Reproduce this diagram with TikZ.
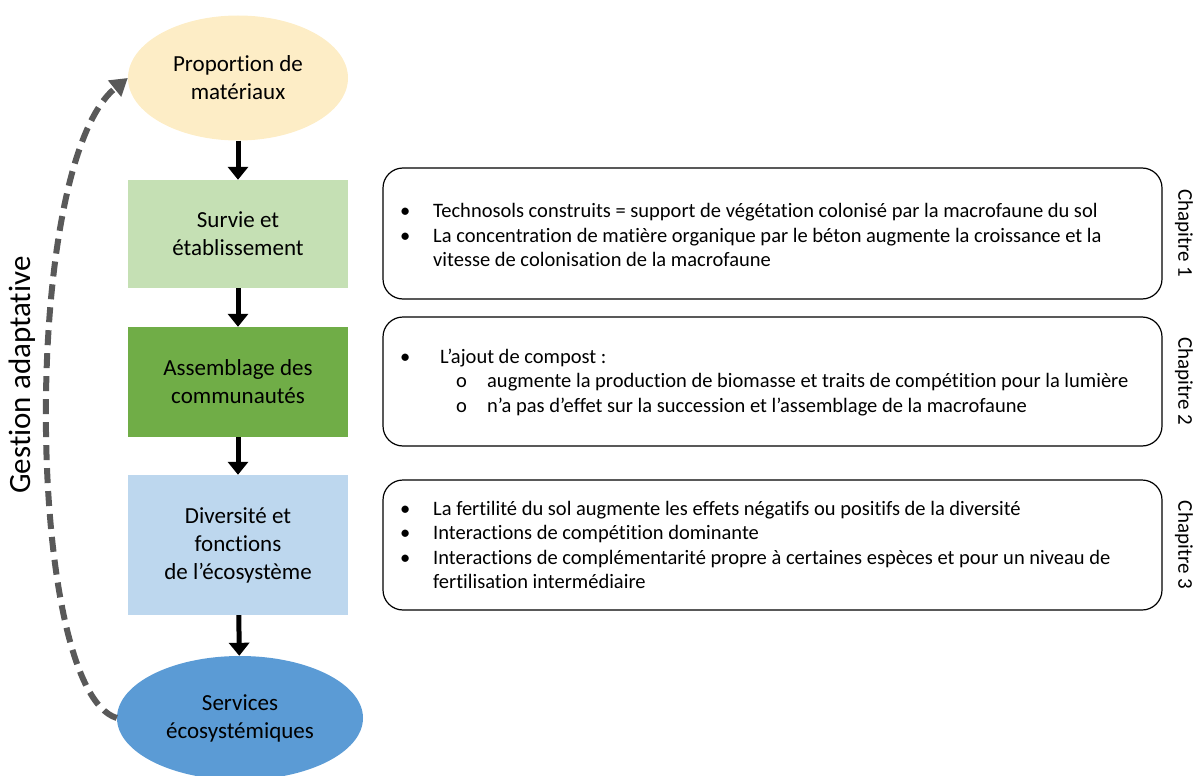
\documentclass[tikz,border=0pt]{standalone}
\usepackage{fontspec}
\setmainfont{Carlito}[RawFeature={-liga;-clig;-calt}]
\usepackage{array}
\usetikzlibrary{shapes.geometric,arrows.meta}

\definecolor{matpeach}{HTML}{FDEDC6}
\definecolor{survgreen}{HTML}{C5E0B4}
\definecolor{assgreen}{HTML}{70AD47}
\definecolor{divblue}{HTML}{BDD7EE}
\definecolor{servblue}{HTML}{5B9BD5}
\definecolor{gestgray}{HTML}{595959}

\begin{document}
\begin{tikzpicture}[x=1pt, y=-1pt,
  ellnode/.style={ellipse, inner sep=0pt, align=center, font=\fontsize{23}{28}\selectfont},
  stepnode/.style={rectangle, inner sep=0pt, minimum width=220pt, align=center, font=\fontsize{23}{28}\selectfont},
  chapbox/.style={draw, line width=1.2pt, rounded corners=20pt, minimum width=779pt, inner sep=0pt},
  chaptext/.style={anchor=west, inner sep=0pt, font=\fontsize{20.5}{24.5}\selectfont},
  chaplabel/.style={rotate=-90, inner sep=0pt, font=\fontsize{21}{25}\selectfont},
  flowarrow/.style={line width=5pt, -{Triangle[length=13pt, width=20pt]}},
]
\useasboundingbox (0,0) rectangle (1203,776);

% left column
\node [ellnode, fill=matpeach, minimum width=220pt, minimum height=125pt] (proportion) at (238,78) {Proportion de\\matériaux};
\node [stepnode, fill=survgreen, minimum height=108pt] (survie) at (238,234) {Survie et\\établissement};
\node [stepnode, fill=assgreen, minimum height=110pt] (assemblage) at (238,382) {Assemblage des\\communautés};
\node [stepnode, fill=divblue, minimum height=140pt] (diversite) at (238,545) {Diversité et\\fonctions\\de l’écosystème};
\node [ellnode, fill=servblue, minimum width=246pt, minimum height=124pt] (services) at (240,718) {Services\\écosystémiques};

% draw arrows
\draw [flowarrow] (proportion) -- (survie);
\draw [flowarrow] (survie) -- (assemblage);
\draw [flowarrow] (assemblage) -- (diversite);
\draw [flowarrow] (diversite) -- (services);

% feedback loop
\draw [gestgray, line width=6pt, dash pattern=on 15pt off 8pt, -{Triangle[length=17pt, width=20pt]}]
  (services.west) .. controls (25,690) and (20,165) .. (proportion.west);
\node [rotate=90, inner sep=0pt, font=\fontsize{31}{36}\selectfont] (gestion) at (22,375) {Gestion adaptative};

% chapter boxes
\node [chapbox, minimum height=131pt] (ch1box) at (772.5,233.5) {};
\node [chapbox, minimum height=129pt] (ch2box) at (772.5,381.5) {};
\node [chapbox, minimum height=130pt] (ch3box) at (772.5,545) {};

\node [chaplabel] (ch1lab) at (1184,233.5) {Chapitre 1};
\node [chaplabel] (ch2lab) at (1184,381.5) {Chapitre 2};
\node [chaplabel] (ch3lab) at (1184,545) {Chapitre 3};

% add texts
\node [chaptext] (ch1txt) at (400,237.5) {%
\begin{tabular}{@{}p{33pt}@{}l@{}}
• & Technosols construits = support de végétation colonisé par la macrofaune du sol\\
• & La concentration de matière organique par le béton augmente la croissance et la\\
  & vitesse de colonisation de la macrofaune
\end{tabular}};

\node [chaptext] (ch2txt) at (400,383) {%
\begin{tabular}{@{}p{40pt}@{}p{47pt}@{}l@{}}
• & \multicolumn{2}{@{}l@{}}{L’ajout de compost :}\\
  & \hspace*{16pt}o & augmente la production de biomasse et traits de compétition pour la lumière\\
  & \hspace*{16pt}o & n’a pas d’effet sur la succession et l’assemblage de la macrofaune
\end{tabular}};

\node [chaptext] (ch3txt) at (400,547) {%
\begin{tabular}{@{}p{33pt}@{}l@{}}
• & La fertilité du sol augmente les effets négatifs ou positifs de la diversité\\
• & Interactions de compétition dominante\\
• & Interactions de complémentarité propre à certaines espèces et pour un niveau de\\
  & fertilisation intermédiaire
\end{tabular}};

\end{tikzpicture}
\end{document}
